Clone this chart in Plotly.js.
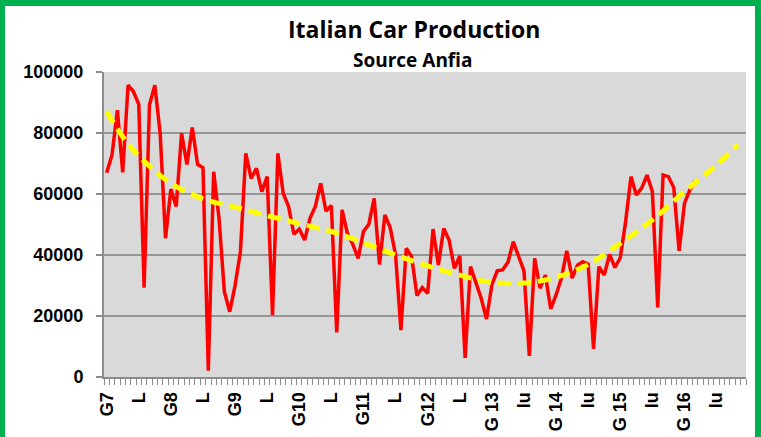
<!DOCTYPE html>
<html>
<head>
<meta charset="utf-8">
<script src="https://cdn.plot.ly/plotly-3.0.1.min.js"></script>
<style>
  html, body { margin: 0; padding: 0; background: #ffffff; }
  #wrap { position: relative; width: 761px; height: 437px; overflow: hidden; }
  #chart { width: 761px; height: 437px; }
  #frame { position: absolute; left: 0; top: 0; width: 761px; height: 450px; box-sizing: border-box;
           border-style: solid; border-color: #00B050; border-width: 6px 6px 6px 5px; pointer-events: none; }
</style>
</head>
<body>
<div id="wrap">
  <div id="chart"></div>
  <div id="frame"></div>
</div>
<script>
// Monthly Italian car production, Jan 2007 (index 0) onward
const production = [
  67000, 72800, 87500, 67100, 95700, 93600, 89400, 29300, 89200, 95700, 79900, 45500,
  61600, 55900, 79900, 69700, 81800, 69700, 68600, 2100, 67300, 52000, 28000, 21400,
  30000, 41100, 73300, 65100, 68400, 60800, 65700, 20300, 73300, 60200, 55900, 46800,
  48500, 44900, 52000, 55900, 63500, 54400, 56200, 14600, 54800, 47000, 43500, 38900,
  47700, 50100, 58600, 36900, 53100, 49000, 40000, 15400, 42200, 39500, 26700, 29300,
  27400, 48500, 36700, 48700, 44900, 35600, 39700, 6300, 36200, 31300, 25800, 19000,
  30200, 34800, 35100, 37600, 44400, 39500, 34800, 6900, 38900, 29100, 33400, 22300,
  26900, 32400, 41400, 32400, 36700, 37800, 37000, 9200, 36200, 33400, 40200, 35900,
  39100, 50900, 65700, 59700, 61900, 66200, 60800, 22800, 66200, 65700, 62100, 41400,
  56900, 61300, 64300
];

// Trend line (category index -> value)
const trendIndex  = [0, 3, 6, 12, 18, 24, 30, 36, 42, 48, 54, 60, 66, 72, 78, 84, 90, 96, 102, 108, 114, 118];
const trendValues = [87000, 78800, 72500, 63500, 58400, 55700, 52900, 50300, 47700, 44000, 40000, 36400,
                     33400, 31000, 30800, 32700, 36900, 43800, 51500, 60800, 69500, 76100];

// Category axis labels (every six months)
const tickIndex = [0, 6, 12, 18, 24, 30, 36, 42, 48, 54, 60, 66, 72, 78, 84, 90, 96, 102, 108, 114];
const tickLabels = ["G7", "L", "G8", "L", "G9", "L", "G10", "L", "G11", "L", "G12", "L",
                    "G 13", "lu", "G 14", "lu", "G 15", "lu", "G 16", "lu"];
const categoryCount = 120;

const yTicks = [0, 20000, 40000, 60000, 80000, 100000];

const xIdx = production.map((_, i) => i);

const traces = [
  {
    x: xIdx, y: production, type: 'scatter', mode: 'lines',
    line: { color: '#FF0000', width: 3.5 }, hoverinfo: 'skip'
  },
  {
    x: trendIndex, y: trendValues, type: 'scatter', mode: 'lines',
    line: { color: '#FFFF00', width: 5, dash: '13px,7px', shape: 'spline', smoothing: 1 }, hoverinfo: 'skip'
  }
];

const L = 104, R = 746, T = 72, B = 377;
const px2paperX = p => (p - L) / (R - L);
const px2paperY = p => (B - p) / (B - T);

const layout = {
  width: 761, height: 437,
  margin: { l: L, r: 761 - R, t: T, b: 437 - B, pad: 0 },
  paper_bgcolor: '#ffffff',
  plot_bgcolor: '#D9D9D9',
  showlegend: false,
  xaxis: {
    type: 'linear',
    range: [-0.5, categoryCount - 0.5],
    tickmode: 'array', tickvals: tickIndex, ticktext: tickLabels,
    tickangle: -90,
    ticks: 'outside', ticklen: 6, tickcolor: 'rgba(0,0,0,0)',
    tickfont: { family: 'Liberation Sans, Arial, sans-serif', size: 18, color: '#000000', weight: 'bold' },
    showgrid: false, zeroline: false,
    showline: true, linecolor: '#8C8C8C', linewidth: 2,
    minor: { tick0: 0.5, dtick: 1, ticks: 'outside', ticklen: 6, tickcolor: '#8C8C8C', tickwidth: 1, showgrid: false },
    fixedrange: true
  },
  yaxis: {
    range: [0, 100000],
    tickmode: 'array', tickvals: yTicks, ticktext: yTicks.map(String),
    ticks: 'outside', ticklen: 6, tickcolor: '#8C8C8C', tickwidth: 1.5,
    ticklabelstandoff: 9,
    tickfont: { family: 'Liberation Sans, Arial, sans-serif', size: 18, color: '#000000', weight: 'bold' },
    showgrid: true, gridcolor: '#969696', gridwidth: 1.5,
    zeroline: false,
    showline: true, linecolor: '#8C8C8C', linewidth: 2,
    fixedrange: true
  },
  annotations: [
    {
      text: 'Italian Car Production', xref: 'paper', yref: 'paper',
      x: px2paperX(414), y: px2paperY(29), xanchor: 'center', yanchor: 'middle', showarrow: false,
      font: { family: 'Open Sans, sans-serif', size: 23, color: '#000000', weight: 'bold' }
    },
    {
      text: 'Source Anfia', xref: 'paper', yref: 'paper',
      x: px2paperX(413), y: px2paperY(60), xanchor: 'center', yanchor: 'middle', showarrow: false,
      font: { family: 'Open Sans, sans-serif', size: 19, color: '#000000', weight: 'bold' }
    }
  ]
};

Plotly.newPlot('chart', traces, layout, { displayModeBar: false, staticPlot: true });
</script>
</body>
</html>
